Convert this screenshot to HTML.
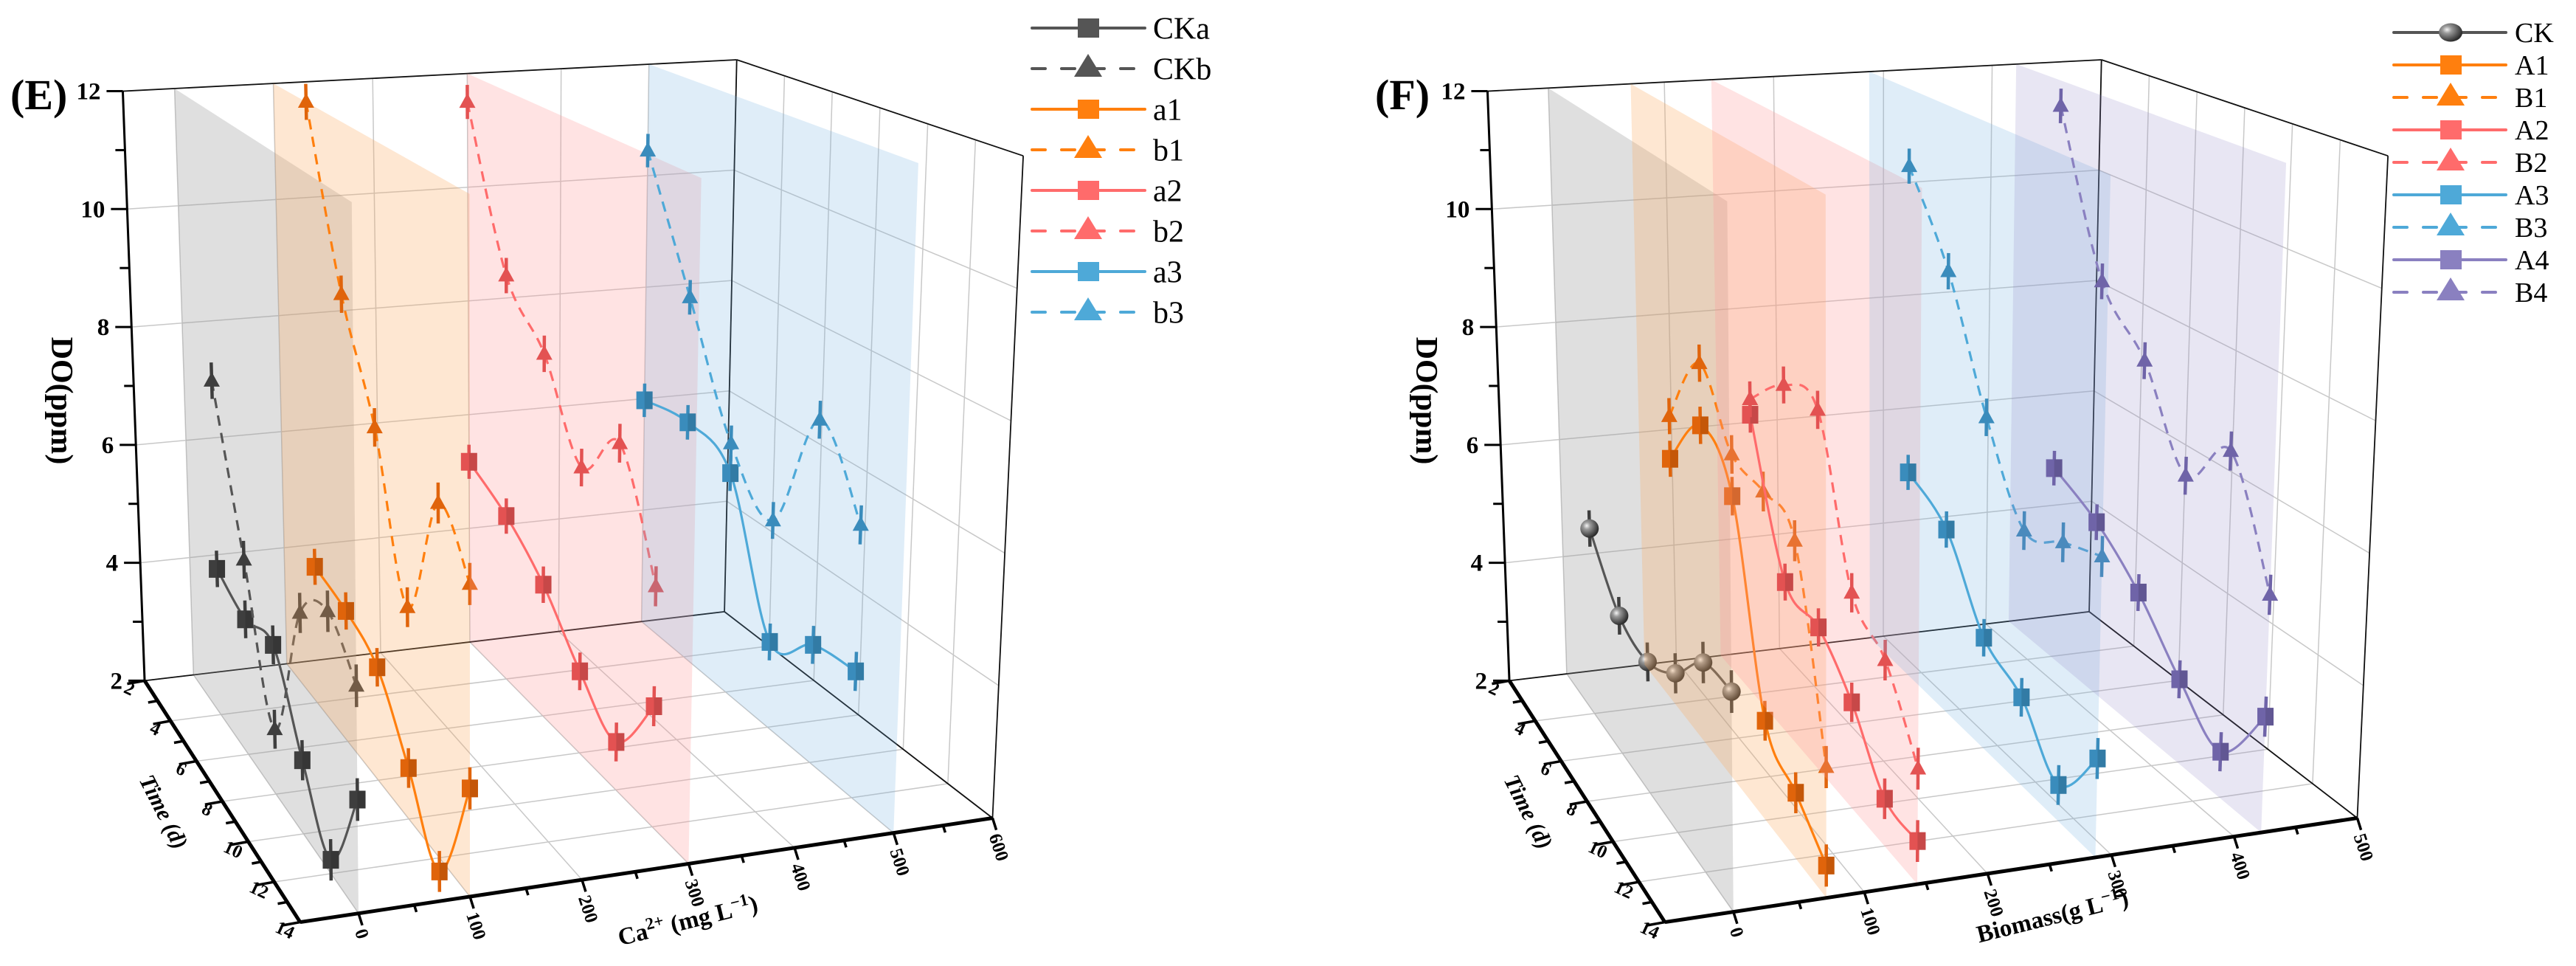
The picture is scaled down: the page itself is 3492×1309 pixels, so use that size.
<!DOCTYPE html>
<html><head><meta charset="utf-8"><style>
html,body{margin:0;padding:0;background:#fff;}
svg{display:block;font-family:"Liberation Serif",serif;}
</style></head><body>
<svg id="chart" xmlns="http://www.w3.org/2000/svg" width="3492" height="1309" viewBox="0 0 3492 1309">
<defs>
<radialGradient id="sph" cx="35%" cy="35%" r="65%"><stop offset="0" stop-color="#f4f4f4"/><stop offset="0.3" stop-color="#9a9a9a"/><stop offset="1" stop-color="#2e2e2e"/></radialGradient>
</defs>
<g id="layer"></g>
</svg>
<script>
// ---------- data ----------
const panelETimesA = [4,6,8,10,12,14];
const panelETimesB = [2,4,6,8,10,12];
const panelFTimes = [4,6,8,10,12,14];
const planesE = [0,100,300,500];
const planesF = [0,71,143,287,422];
const ckaDO = [4.4,4.15,4.3,3.1,2.2,3.6];
const ckbDO = [7.5,5.1,3.0,5.3,5.8,5.2];
const a1DO = [4.26,4.1,3.76,2.77,1.8,3.54];
const b1DO = [12.0,9.2,7.5,5.2,7.2,6.45];
const a2DO = [5.17,4.77,4.16,3.3,2.74,3.81];
const b2DO = [11.5,8.86,7.96,6.55,7.36,5.61];
const a3DO = [5.97,6.07,5.68,3.39,3.86,3.94];
const b3DO = [10.45,8.24,6.18,5.37,7.42,6.19];
const ckDO = [5.05,4.19,4.02,4.38,5.04,5.1];
const A1DO = [6.07,7.1,6.44,3.5,2.97,2.46];
const B1DO = [6.78,8.1,7.09,6.96,6.66,3.86];
const A2DO = [6.68,4.43,4.24,3.61,2.7,2.62];
const B2DO = [6.94,7.63,7.66,5.28,4.75,3.66];
const A3DO = [5.45,5.0,3.76,3.35,2.54,3.45];
const B3DO = [10.68,9.27,7.29,5.94,6.2,6.41];
const A4DO = [5.27,4.85,4.19,3.31,2.7,3.73];
const B4DO = [11.56,8.9,7.97,6.53,7.32,5.55];
const errDO = 0.3;
const doTicks = [2,4,6,8,10,12];
const timeTicks = [2,4,6,8,10,12,14];
const xTicksE = [0,100,200,300,400,500,600];
const xTicksF = [0,100,200,300,400,500];

// ---------- projection ----------
const NS='http://www.w3.org/2000/svg';
const layer=document.getElementById('layer');
const SX=1/1.0814, SY=1/1.198;
const K={A:[180,148],B:[212,1105],C:[440,1497],H:[425,335],F:[1080,97],G:[1062,993],D:[1455,1328],E:[1500,253]};
function L(a,b,t){return [a[0]+(b[0]-a[0])*t,a[1]+(b[1]-a[1])*t];}
function P(ox,u,v,w){const b0=L(K.B,K.G,u),b1=L(K.C,K.D,u),t0=L(K.A,K.F,u),t1=L(K.H,K.E,u);const p=L(L(b0,b1,v),L(t0,t1,v),w);return [ox+p[0]*SX,p[1]*SY];}
const vOf=t=>(t-2)/12, wOf=d=>(d-2)/10;
function makeU(ticks,fr){return function(x){let i=0;while(i<ticks.length-2&&x>ticks[i+1])i++;return fr[i]+(x-ticks[i])*(fr[i+1]-fr[i])/(ticks[i+1]-ticks[i]);};}
function el(tag,attrs,parent){const e=document.createElementNS(NS,tag);for(const k in attrs)e.setAttribute(k,attrs[k]);(parent||layer).appendChild(e);return e;}
function line(p,q,stroke,sw,parent){return el('line',{x1:p[0],y1:p[1],x2:q[0],y2:q[1],stroke:stroke,'stroke-width':sw},parent);}
function spline(pts){let d='M'+pts[0][0]+','+pts[0][1];for(let i=0;i<pts.length-1;i++){const p0=pts[i-1]||pts[i],p1=pts[i],p2=pts[i+1],p3=pts[i+2]||p2;const c1=[p1[0]+(p2[0]-p0[0])/6,p1[1]+(p2[1]-p0[1])/6],c2=[p2[0]-(p3[0]-p1[0])/6,p2[1]-(p3[1]-p1[1])/6];d+=' C'+c1[0]+','+c1[1]+' '+c2[0]+','+c2[1]+' '+p2[0]+','+p2[1];}return d;}

function drawPanel(cfg){
  const ox=cfg.ox, U=makeU(cfg.xTicks,cfg.xFr);
  const g=el('g',{});
  
  
  const grid=el('g',{},g);
  
  
  const gc='#c8c8c8';
  cfg.xTicks.forEach(x=>{const u=U(x);line(P(ox,u,0,0),P(ox,u,0,1),gc,1.5,grid);line(P(ox,u,0,0),P(ox,u,1,0),gc,1.5,grid);});
  doTicks.forEach(d=>{const w=wOf(d);line(P(ox,0,0,w),P(ox,1,0,w),gc,1.5,grid);line(P(ox,1,0,w),P(ox,1,1,w),gc,1.5,grid);});
  timeTicks.forEach(t=>{const v=vOf(t);line(P(ox,1,v,0),P(ox,1,v,1),gc,1.5,grid);line(P(ox,0,v,0),P(ox,1,v,0),gc,1.5,grid);});
  const box=el('g',{},g);
  
  
  [[[0,0,1],[1,0,1]],[[1,0,1],[1,1,1]],[[1,1,1],[1,1,0]],[[1,0,1],[1,0,0]],[[1,0,0],[0,0,0]],[[1,0,0],[1,1,0]]].forEach(e=>line(P(ox,...e[0]),P(ox,...e[1]),'#111',1.8,box));
  cfg.planes.forEach((x,pi)=>{
    const u=U(x);
    const poly=[P(ox,u,0,0),P(ox,u,1,0),P(ox,u,1,1),P(ox,u,0,1)];
    const pl=el('polygon',{points:poly.map(p=>p.join(',')).join(' '),fill:cfg.planeFill[pi]},g);
    
    
    cfg.series.filter(s=>s.plane===pi).forEach(s=>{
      const sg=el('g',{},g);
      
      
      const pts=s.times.map((t,i)=>P(ox,u,vOf(t),wOf(s.vals[i])));
      const path=el('path',{d:spline(pts),fill:'none',stroke:s.color,'stroke-width':3.2,'stroke-dasharray':s.dash?'14 10':'none'},sg);
      
      
      s.times.forEach((t,i)=>{
        const p=pts[i];
        const e1=P(ox,u,vOf(t),wOf(s.vals[i]-errDO)),e2=P(ox,u,vOf(t),wOf(s.vals[i]+errDO));
        const eb=line(e1,e2,s.mcolor,4.5,sg);
        
        
        let m;
        if(s.marker==='square'){m=el('rect',{x:p[0]-11,y:p[1]-12,width:22,height:24,fill:s.mcolor},sg);el('rect',{x:p[0],y:p[1]-12,width:11,height:24,fill:'rgba(0,0,0,0.12)'},sg);}
        else if(s.marker==='tri'){m=el('polygon',{points:(p[0])+','+(p[1]-12)+' '+(p[0]-11)+','+(p[1]+8)+' '+(p[0]+11)+','+(p[1]+8),fill:s.mcolor},sg);}
        else {m=el('circle',{cx:p[0],cy:p[1],r:12.5,fill:'url(#sph)'},sg);}
        
        
      });
    });
  });
  const ax=el('g',{},g);
  
  
  line(P(ox,0,0,0),P(ox,0,0,1),'#000',3,ax);
  line(P(ox,0,0,0),P(ox,0,1,0),'#000',5,ax);
  line(P(ox,0,1,0),P(ox,1,1,0),'#000',5,ax);
  for(let d=2;d<=12;d++){const p=P(ox,0,0,wOf(d));const len=d%2===0?22:13;line(p,[p[0]-len,p[1]],'#000',3,ax);
    if(d%2===0){const tx=el('text',{x:p[0]-30,y:p[1]+11,'text-anchor':'end','font-size':33,'font-weight':'bold'},ax);tx.textContent=d;
      
      }}
  for(let t=2;t<=14;t++){const p=P(ox,0,vOf(t),0);const len=t%2===0?24:13;line(p,[p[0]-0.984*len,p[1]+0.178*len],'#000',3.5,ax);
    if(t%2===0){const lp=[p[0]-24,p[1]+18];const tx=el('text',{x:lp[0],y:lp[1],'text-anchor':'middle','font-size':25,'font-weight':'bold',transform:'rotate(25 '+lp[0]+' '+lp[1]+')'},ax);tx.textContent=t;
      
      }}
  const xt=cfg.xTicks;
  for(let x=xt[0];x<=xt[xt.length-1];x+=50){const p=P(ox,U(x),1,0);const major=x%100===0;const len=major?17:10;line(p,[p[0]+0.3*len,p[1]+0.95*len],'#000',3.5,ax);
    if(major){const lp=[p[0]+2,p[1]+22];const tx=el('text',{x:lp[0],y:lp[1],'font-size':25,'font-weight':'bold','dominant-baseline':'central',transform:'rotate(72 '+lp[0]+' '+lp[1]+')'},ax);tx.textContent=x;
      
      }}
  const pt=el('text',{x:ox+14,y:148,'font-size':58,'font-weight':'bold'},g);pt.textContent=cfg.label;
  
  
  const yt=el('text',{x:ox+83,y:543,'text-anchor':'middle','font-size':42,'font-weight':'bold','dominant-baseline':'central',transform:'rotate(90 '+(ox+83)+' 543)'},g);yt.textContent='DO(ppm)';
  
  
  const tt=el('text',{x:ox+222,y:1100,'text-anchor':'middle','font-size':31,'font-weight':'bold','font-style':'italic','dominant-baseline':'central',transform:'rotate(63 '+(ox+222)+' 1100)'},g);tt.textContent='Time (d)';
  
  
  const xtl=el('text',{x:ox+cfg.xTitlePos[0],y:cfg.xTitlePos[1],'text-anchor':'middle','font-size':33,'font-weight':'bold',transform:'rotate(-14 '+(ox+cfg.xTitlePos[0])+' '+cfg.xTitlePos[1]+')'},g);
  xtl.innerHTML=cfg.xTitle;
  
  
}

const GRAY='#555555',OR='#ff7f0e',PK='#ff6b6b',BL='#4ea9d8',PU='#8a80c0';
const MG='#3e3e3e',MO='#e0640b',MP='#e35252',MB='#3a8cbc',MU='#6f64a8';
drawPanel({id:'panel-e',label:'(E)',ox:0,xTicks:xTicksE,xFr:[.0843,.2452,.407,.561,.714,.857,1.0],planes:planesE,
  planeFill:['rgba(150,150,150,0.30)','rgba(253,170,95,0.28)','rgba(255,150,150,0.27)','rgba(110,175,225,0.22)'],
  xTitle:'Ca<tspan dy="-12" font-size="23">2+</tspan><tspan dy="12"> (mg L</tspan><tspan dy="-12" font-size="23">−1</tspan><tspan dy="12">)</tspan>',xTitlePos:[935,1258],
  series:[
   {name:'CKa',plane:0,times:panelETimesA,vals:ckaDO,color:GRAY,mcolor:MG,marker:'square',dash:false},
   {name:'CKb',plane:0,times:panelETimesA,vals:ckbDO,color:GRAY,mcolor:MG,marker:'tri',dash:true},
   {name:'a1',plane:1,times:panelETimesA,vals:a1DO,color:OR,mcolor:MO,marker:'square',dash:false},
   {name:'b1',plane:1,times:panelETimesA,vals:b1DO,color:OR,mcolor:MO,marker:'tri',dash:true},
   {name:'a2',plane:2,times:panelETimesB,vals:a2DO,color:PK,mcolor:MP,marker:'square',dash:false},
   {name:'b2',plane:2,times:panelETimesB,vals:b2DO,color:PK,mcolor:MP,marker:'tri',dash:true},
   {name:'a3',plane:3,times:panelETimesB,vals:a3DO,color:BL,mcolor:MB,marker:'square',dash:false},
   {name:'b3',plane:3,times:panelETimesB,vals:b3DO,color:BL,mcolor:MB,marker:'tri',dash:true}]});
drawPanel({id:'panel-f',label:'(F)',ox:1850,xTicks:xTicksF,xFr:[.099,.288,.466,.645,.822,1.0],planes:planesF,
  planeFill:['rgba(150,150,150,0.30)','rgba(253,170,95,0.28)','rgba(255,150,150,0.27)','rgba(110,175,225,0.22)','rgba(140,130,195,0.2)'],
  xTitle:'Biomass(g L<tspan dy="-12" font-size="23">−1</tspan><tspan dy="12">)</tspan>',xTitlePos:[935,1252],
  series:[
   {name:'CK',plane:0,times:panelFTimes,vals:ckDO,color:GRAY,mcolor:MG,marker:'sphere',dash:false},
   {name:'A1',plane:1,times:panelFTimes,vals:A1DO,color:OR,mcolor:MO,marker:'square',dash:false},
   {name:'B1',plane:1,times:panelFTimes,vals:B1DO,color:OR,mcolor:MO,marker:'tri',dash:true},
   {name:'A2',plane:2,times:panelFTimes,vals:A2DO,color:PK,mcolor:MP,marker:'square',dash:false},
   {name:'B2',plane:2,times:panelFTimes,vals:B2DO,color:PK,mcolor:MP,marker:'tri',dash:true},
   {name:'A3',plane:3,times:panelFTimes,vals:A3DO,color:BL,mcolor:MB,marker:'square',dash:false},
   {name:'B3',plane:3,times:panelFTimes,vals:B3DO,color:BL,mcolor:MB,marker:'tri',dash:true},
   {name:'A4',plane:4,times:panelFTimes,vals:A4DO,color:PU,mcolor:MU,marker:'square',dash:false},
   {name:'B4',plane:4,times:panelFTimes,vals:B4DO,color:PU,mcolor:MU,marker:'tri',dash:true}]});

function legend(id,x0,x1,xm,xt,y0,dy,fs,items){
  const g=el('g',{});
  
  
  items.forEach((it,i)=>{
    const y=y0+i*dy;
    const e=el('g',{},g);
    
    
    el('line',{x1:x0,y1:y,x2:x1,y2:y,stroke:it[1],'stroke-width':4,'stroke-linecap':'round','stroke-dasharray':it[3]?'18 22':'none'},e);
    if(it[2]==='square')el('rect',{x:xm-14,y:y-13,width:29,height:26,fill:it[1]},e);
    else if(it[2]==='tri')el('polygon',{points:xm+','+(y-20)+' '+(xm-19)+','+(y+11)+' '+(xm+19)+','+(y+11),fill:it[1]},e);
    else el('ellipse',{cx:xm,cy:y,rx:16,ry:12.5,fill:'url(#sph)'},e);
    const t=el('text',{x:xt,y:y+fs*0.34,'font-size':fs},e);t.textContent=it[0];
  });
}
legend('legend-e',1399,1552,1475,1563,38,55,42,[['CKa',GRAY,'square',0],['CKb',GRAY,'tri',1],['a1',OR,'square',0],['b1',OR,'tri',1],['a2',PK,'square',0],['b2',PK,'tri',1],['a3',BL,'square',0],['b3',BL,'tri',1]]);
legend('legend-f',3245,3397,3322,3409,44,44,38,[['CK',GRAY,'sphere',0],['A1',OR,'square',0],['B1',OR,'tri',1],['A2',PK,'square',0],['B2',PK,'tri',1],['A3',BL,'square',0],['B3',BL,'tri',1],['A4',PU,'square',0],['B4',PU,'tri',1]]);
</script>
</body></html>
